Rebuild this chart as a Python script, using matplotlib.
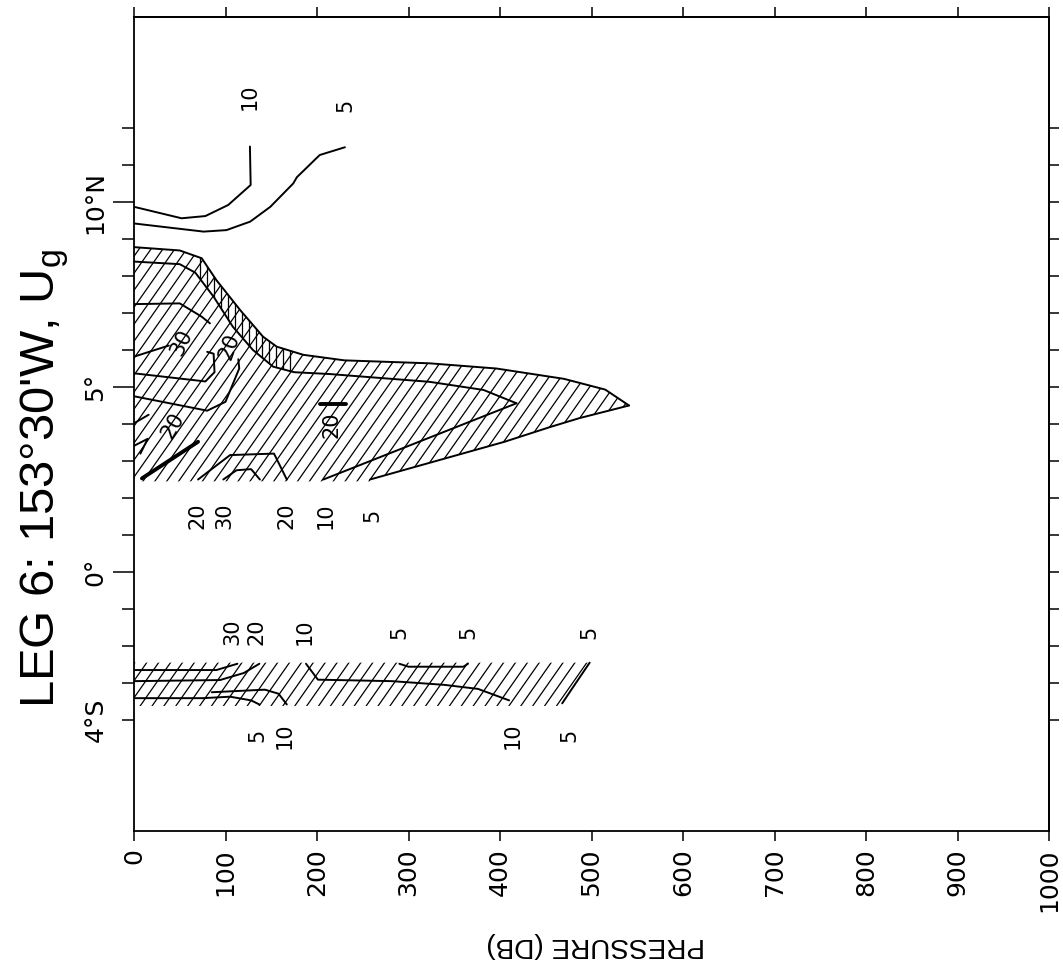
import matplotlib
matplotlib.use("Agg")
import matplotlib.pyplot as plt
import numpy as np
from matplotlib import font_manager
from matplotlib.patches import Polygon
from matplotlib.collections import LineCollection
from matplotlib.ticker import FixedLocator, FuncFormatter

_names = {f.name for f in font_manager.fontManager.ttflist}
NARROW = 'Liberation Sans Narrow' if 'Liberation Sans Narrow' in _names else 'Liberation Sans'
NSCALE = 1.0 if NARROW == 'Liberation Sans Narrow' else 0.84

plt.rcParams['font.family'] = ['DejaVu Sans']
plt.rcParams['mathtext.fontset'] = 'custom'
plt.rcParams['mathtext.rm'] = NARROW
plt.rcParams['mathtext.it'] = NARROW

# ---------------- data ----------------
title = "LEG 6: 153°30'W, U$_{\\mathrm{g}}$"
xlabel = "PRESSURE (DB)"
pressure_ticks = [0, 100, 200, 300, 400, 500, 600, 700, 800, 900, 1000]
lat_major = [0, 5, 10]
lat_minor = list(range(-4, 13))
lat_labels = {-4: "4°S", 0: "0°", 5: "5°", 10: "10°N"}

# northern isolated contours (north of the hatched tongue)
n10_p = [0, 52, 78, 103, 127.5, 126.7]
n10_lat = [9.87, 9.56, 9.62, 9.92, 10.46, 11.5]
n5_p = [0, 76, 101, 127, 149, 174, 178, 203, 230.5]
n5_lat = [9.42, 9.20, 9.24, 9.47, 9.87, 10.5, 10.67, 11.27, 11.48]

# hatched tongue: 5 contour (outer) and 10 contour (inner)
o5_p = [0, 50, 74, 90, 116, 141, 156, 185, 230, 323, 396, 470, 515, 541]
o5_lat = [8.78, 8.69, 8.48, 7.89, 7.08, 6.36, 6.09, 5.87, 5.72, 5.64, 5.50, 5.22, 4.93, 4.50]
o5_low_p = [541, 487, 455, 405, 258]
o5_low_lat = [4.50, 4.16, 3.92, 3.52, 2.50]
i10_p = [0, 50, 67, 87, 108, 130, 152, 175, 214, 323, 382, 418]
i10_lat = [8.39, 8.32, 8.09, 7.44, 6.63, 6.00, 5.55, 5.40, 5.35, 5.14, 4.92, 4.56]
i10_low_p = [418, 207]
i10_low_lat = [4.56, 2.50]

# 20 and 30 contours in the core
c20a_p = [0, 50, 74, 83]
c20a_lat = [7.24, 7.26, 6.90, 6.72]
c20b_p = [114, 115, 100, 80, 0]
c20b_lat = [5.75, 5.50, 4.60, 4.36, 4.75]
c30a_p = [0, 38]
c30a_lat = [5.82, 6.12]
c30b_p = [0, 78, 88, 87, 80]
c30b_lat = [5.37, 5.15, 5.40, 5.90, 5.95]
c20c_p = [0, 16]
c20c_lat = [4.02, 4.25]
c20d_p = [0, 15, 7]
c20d_lat = [3.41, 3.60, 3.20]
cbold_p = [8.7, 70]
cbold_lat = [2.53, 3.52]
c20e_p = [70, 105, 153, 167]
c20e_lat = [2.50, 3.16, 3.20, 2.50]
c30e_p = [97.6, 112, 128, 137.6]
c30e_lat = [2.50, 2.75, 2.78, 2.50]
bar_p = [203, 232]
bar_lat = [4.54, 4.54]

north_bottom = 2.45

# southern band (about 2.5S - 3.6S)
s30_p = [0, 90, 113]
s30_lat = [-2.65, -2.65, -2.48]
s20_p = [0, 94, 120, 137]
s20_lat = [-2.95, -2.92, -2.73, -2.48]
s5a_p = [0, 75, 105, 128, 137]
s5a_lat = [-3.41, -3.41, -3.37, -3.47, -3.58]
s10a_p = [85, 143, 158, 167]
s10a_lat = [-3.25, -3.18, -3.29, -3.58]
s10b_p = [188, 201, 282, 339, 376, 410]
s10b_lat = [-2.48, -2.91, -2.95, -3.05, -3.16, -3.47]
s5b_p = [290, 300, 360, 365]
s5b_lat = [-2.48, -2.56, -2.56, -2.48]
s5c_p = [498, 478, 468]
s5c_lat = [-2.45, -3.18, -3.55]
south_top = -2.45
south_bottom = -3.62

# contour labels: text, pressure, latitude, rotation
labels = [
    ("10", 126, 12.85, 90), ("5", 231, 12.6, 90),
    ("30", 52, 6.2, 65), ("20", 104, 6.1, 70), ("20", 42, 3.95, 60),
    ("20", 216, 3.97, 90),
    ("20", 69, 1.52, 90), ("30", 99, 1.52, 90), ("20", 167, 1.52, 90),
    ("10", 210, 1.52, 90), ("5", 260, 1.52, 90),
    ("30", 107, -1.62, 90), ("20", 134, -1.62, 90), ("10", 186, -1.62, 90),
    ("5", 290, -1.62, 90), ("5", 365, -1.62, 90), ("5", 498, -1.62, 90),
    ("5", 135, -4.42, 90), ("10", 165, -4.42, 90), ("10", 414, -4.42, 90),
    ("5", 476, -4.42, 90),
]

# ---------------- figure ----------------
W, H = 1063, 980
fig = plt.figure(figsize=(W / 100, H / 100), dpi=100)
ax = fig.add_axes([134 / W, 1 - 831 / H, (1049 - 134) / W, (831 - 17) / H])
ax.set_xlim(0, 1000)
ax.set_ylim(-7, 15)

K = 'black'
LW = 1.4
HLW = 0.9
SLOPE = 0.0353   # hatch lat per db
SPACING = 13.0   # hatch spacing in db


def hatch(verts, spacing=SPACING, vertical=False, prange=None):
    poly = Polygon(verts, closed=True, fill=False, edgecolor='none')
    ax.add_patch(poly)
    segs = []
    if vertical:
        for c in np.arange(prange[0], prange[1], spacing):
            segs.append([(c, -7), (c, 15)])
    else:
        for c in np.arange(-700, 1000, spacing):
            segs.append([(c, -7), (c + 22 / SLOPE, 15)])
    lc = LineCollection(segs, colors=K, linewidths=HLW)
    ax.add_collection(lc, autolim=False)
    lc.set_clip_path(poly)


# north hatched region
nverts = [(0, north_bottom)] + list(zip(o5_p, o5_lat)) + list(zip(o5_low_p[1:], o5_low_lat[1:]))
nverts = nverts + [(o5_low_p[-1], north_bottom)]
hatch(nverts)
# band between 5 and 10 contours with extra vertical hatch in the neck
band = list(zip(o5_p, o5_lat)) + list(zip(i10_p, i10_lat))[::-1]
hatch(band, spacing=7.6, vertical=True, prange=(72, 172))

# south hatched band
sverts = [(0, south_top), (s5c_p[0], south_top)] + list(zip(s5c_p, s5c_lat))[1:] + \
         [(s5c_p[-1] - 3, south_bottom), (0, south_bottom)]
hatch(sverts)


def line(p, lat, lw=LW):
    ax.plot(p, lat, color=K, lw=lw, solid_joinstyle='round', solid_capstyle='round')


for p, la in [(n10_p, n10_lat), (n5_p, n5_lat), (o5_p, o5_lat), (o5_low_p, o5_low_lat),
              (i10_p, i10_lat), (i10_low_p, i10_low_lat), (c20a_p, c20a_lat),
              (c20b_p, c20b_lat), (c30a_p, c30a_lat), (c30b_p, c30b_lat),
              (c20c_p, c20c_lat), (c20d_p, c20d_lat), (c20e_p, c20e_lat),
              (c30e_p, c30e_lat), (s30_p, s30_lat), (s20_p, s20_lat),
              (s5a_p, s5a_lat), (s10a_p, s10a_lat), (s10b_p, s10b_lat),
              (s5b_p, s5b_lat), (s5c_p, s5c_lat)]:
    line(p, la)
line(cbold_p, cbold_lat, lw=2.8)
line(bar_p, bar_lat, lw=2.8)

for txt, p, la, rot in labels:
    ax.text(p, la, txt, rotation=rot, ha='center', va='center', fontsize=15,
            color=K, rotation_mode='anchor')

# ---------------- axes styling ----------------
for s in ax.spines.values():
    s.set_linewidth(1.3)
    s.set_color(K)

ax.set_xticks(pressure_ticks)
ax.set_xticklabels([str(v) for v in pressure_ticks], rotation=90, fontsize=18)
ax.tick_params(axis='x', which='major', direction='out', length=7.5, width=1.1,
               pad=5, bottom=True, top=False)

ax.yaxis.set_major_locator(FixedLocator(lat_major))
ax.yaxis.set_minor_locator(FixedLocator([v for v in lat_minor if v not in lat_major]))
ax.yaxis.set_major_formatter(FuncFormatter(lambda v, pos: lat_labels.get(int(round(v)), '')))
ax.yaxis.set_minor_formatter(FuncFormatter(lambda v, pos: lat_labels.get(int(round(v)), '')))
ax.tick_params(axis='y', which='major', direction='out', length=15, width=1.1, pad=4,
               labelsize=18, labelrotation=90, right=False)
ax.tick_params(axis='y', which='minor', direction='out', length=9, width=1.1, pad=10,
               labelsize=18, labelrotation=90, right=False)
for t in ax.yaxis.get_majorticklabels() + ax.yaxis.get_minorticklabels():
    t.set_va('center')

top = ax.secondary_xaxis('top')
top.set_xticks(pressure_ticks)
top.tick_params(direction='out', length=7.5, width=1.1, labeltop=False)
top.spines['top'].set_linewidth(1.3)
right = ax.secondary_yaxis('right')
right.set_yticks(lat_minor)
right.tick_params(direction='out', length=7.5, width=1.1, labelright=False)
right.spines['right'].set_linewidth(1.3)

fig.text(45 / W, 1 - 478 / H, title, rotation=90, ha='center', va='center',
         fontsize=42 * NSCALE, family=NARROW, color=K)
fig.text(596 / W, 1 - 945 / H, xlabel, rotation=180, ha='center', va='center',
         fontsize=24 * NSCALE, family=NARROW, color=K)

fig.savefig('out.png', dpi=100, facecolor='white')
